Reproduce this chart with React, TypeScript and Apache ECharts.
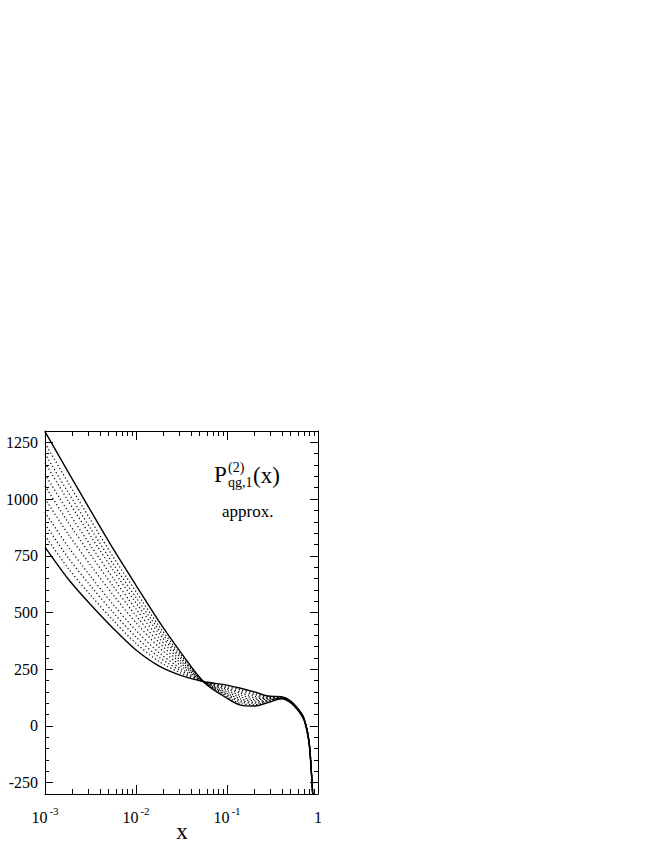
import React, { useEffect, useRef } from 'react';
import * as echarts from 'echarts';

// x positions (raw x values, plotted on a log axis)
const xValues = [0.001, 0.00178, 0.00316, 0.00562, 0.01, 0.0178, 0.0316, 0.0562, 0.1, 0.141, 0.2, 0.282, 0.398, 0.501, 0.631, 0.708, 0.794, 0.851, 0.891];

// solid boundary curves
const solidA = [1297, 1122, 950, 780, 620, 462, 320, 192, 122, 92, 88, 103, 120, 102, 58, 22, -70, -225, -370];
const solidB = [788, 650, 535, 430, 335, 265, 222, 195, 180, 166, 150, 132, 129, 110, 66, 30, -60, -215, -360];

// dotted approximations
const dotted1 = [1246, 1075, 909, 745, 592, 442, 310, 192, 128, 99, 94, 106, 121, 103, 59, 23, -69, -224, -369];
const dotted2 = [1200, 1032, 871, 714, 566, 425, 301, 193, 133, 106, 100, 109, 122, 104, 60, 24, -68, -223, -368];
const dotted3 = [1160, 995, 838, 686, 543, 409, 294, 193, 138, 112, 105, 111, 122, 104, 60, 24, -67, -222, -367];
const dotted4 = [1109, 947, 796, 651, 515, 389, 284, 193, 143, 119, 111, 114, 123, 105, 61, 25, -66, -221, -366];
const dotted5 = [1058, 900, 755, 616, 486, 369, 274, 193, 149, 127, 117, 117, 124, 106, 62, 26, -65, -220, -365];
const dotted6 = [1002, 848, 709, 577, 455, 348, 263, 194, 156, 135, 124, 120, 125, 107, 63, 27, -64, -219, -364];
const dotted7 = [941, 792, 660, 535, 421, 324, 251, 194, 163, 144, 131, 123, 126, 108, 64, 28, -63, -218, -363];
const dotted8 = [890, 744, 618, 500, 392, 304, 242, 194, 168, 151, 138, 126, 127, 108, 64, 28, -62, -217, -362];
const dotted9 = [839, 697, 577, 465, 364, 285, 232, 195, 174, 159, 144, 129, 128, 109, 65, 29, -61, -216, -361];

const yTickLabels = [-250, 0, 250, 500, 750, 1000, 1250];
const xTickExponents = [-3, -2, -1, 0];

const FONT = 'Liberation Serif';

export default function App() {
  const ref = useRef<HTMLDivElement>(null);
  useEffect(() => {
    const chart = echarts.init(ref.current!, null, { renderer: 'svg' });
    const minorX: number[] = [];
    for (let i = 0; i < xTickExponents.length - 1; i++) {
      for (let k = 2; k <= 9; k++) minorX.push(xTickExponents[i] + Math.log10(k));
    }
    const ls = { color: '#000', width: 1 };
    const pairs = (arr: number[]) => xValues.map((x, i) => [x, arr[i]]);
    const dots = [dotted1, dotted2, dotted3, dotted4, dotted5, dotted6, dotted7, dotted8, dotted9];

    const xFormatter = (v: number) => {
      const e = Math.round(Math.log10(v));
      return e === 0 ? '{b|1}' : `{b|10}{s|${e}}`;
    };

    const option: any = {
      animation: false,
      backgroundColor: '#fff',
      grid: { left: 45, top: 431, width: 273, height: 363 },
      xAxis: [
        {
          type: 'log', logBase: 10, min: 0.001, max: 1, position: 'bottom',
          axisLine: { show: true, onZero: false, lineStyle: ls },
          axisTick: { show: true, inside: true, length: 9, lineStyle: ls },
          axisLabel: {
            margin: 11, formatter: xFormatter,
            rich: {
              b: { fontSize: 16, fontFamily: FONT, color: '#000', lineHeight: 20, verticalAlign: 'bottom' },
              s: { fontSize: 11, fontFamily: FONT, color: '#000', lineHeight: 11, verticalAlign: 'top', padding: [0, 0, 0, 2] },
            },
          },
          splitLine: { show: false }, minorTick: { show: false },
        },
        {
          type: 'log', logBase: 10, min: 0.001, max: 1, position: 'top',
          axisLine: { show: true, onZero: false, lineStyle: ls },
          axisTick: { show: true, inside: true, length: 9, lineStyle: ls },
          axisLabel: { show: false }, splitLine: { show: false },
        },
        {
          type: 'value', min: -3, max: 0, position: 'bottom',
          axisLine: { show: false, onZero: false },
          axisTick: { show: true, inside: true, length: 5, lineStyle: ls, customValues: minorX },
          axisLabel: { show: false }, splitLine: { show: false },
        },
        {
          type: 'value', min: -3, max: 0, position: 'top',
          axisLine: { show: false, onZero: false },
          axisTick: { show: true, inside: true, length: 5, lineStyle: ls, customValues: minorX },
          axisLabel: { show: false }, splitLine: { show: false },
        },
      ],
      yAxis: [
        {
          type: 'value', min: -300, max: 1300, position: 'left',
          axisLine: { show: true, onZero: false, lineStyle: ls },
          axisTick: { show: true, inside: true, length: 8, lineStyle: ls, customValues: yTickLabels },
          axisLabel: {
            customValues: yTickLabels, margin: 7, fontSize: 16, fontFamily: FONT, color: '#000',
            formatter: (v: number) => String(v),
          },
          splitLine: { show: false },
        },
        {
          type: 'value', min: -300, max: 1300, position: 'right',
          axisLine: { show: true, onZero: false, lineStyle: ls },
          axisTick: { show: true, inside: true, length: 8, lineStyle: ls, customValues: yTickLabels },
          axisLabel: { show: false }, splitLine: { show: false },
        },
        {
          type: 'value', min: -300, max: 1300, interval: 50, position: 'left',
          axisLine: { show: false, onZero: false },
          axisTick: { show: true, inside: true, length: 4, lineStyle: ls },
          axisLabel: { show: false }, splitLine: { show: false },
        },
        {
          type: 'value', min: -300, max: 1300, interval: 50, position: 'right',
          axisLine: { show: false, onZero: false },
          axisTick: { show: true, inside: true, length: 4, lineStyle: ls },
          axisLabel: { show: false }, splitLine: { show: false },
        },
      ],
      series: [
        ...dots.map((d, i) => ({
          name: 'approx ' + (i + 1), type: 'line', xAxisIndex: 0, yAxisIndex: 0,
          data: pairs(d), showSymbol: false, smooth: 0.3, clip: true,
          lineStyle: { color: '#000', width: 1.2, type: [1.2, 2.4] },
        })),
        {
          name: 'A', type: 'line', xAxisIndex: 0, yAxisIndex: 0, data: pairs(solidA),
          showSymbol: false, smooth: 0.3, clip: true, lineStyle: { color: '#000', width: 1.4 },
        },
        {
          name: 'B', type: 'line', xAxisIndex: 0, yAxisIndex: 0, data: pairs(solidB),
          showSymbol: false, smooth: 0.3, clip: true, lineStyle: { color: '#000', width: 1.4 },
        },
      ],
      graphic: [
        { type: 'text', x: 214, y: 474, style: { text: 'P', fontSize: 23, fontFamily: FONT, fill: '#000', verticalAlign: 'middle' } },
        { type: 'text', x: 228, y: 467, style: { text: '(2)', fontSize: 14, fontFamily: FONT, fill: '#000', verticalAlign: 'middle' } },
        { type: 'text', x: 228, y: 482, style: { text: 'qg,1', fontSize: 14, fontFamily: FONT, fill: '#000', verticalAlign: 'middle' } },
        { type: 'text', x: 253, y: 475, style: { text: '(x)', fontSize: 23, fontFamily: FONT, fill: '#000', verticalAlign: 'middle' } },
        { type: 'text', x: 222, y: 511, style: { text: 'approx.', fontSize: 17, fontFamily: FONT, fill: '#000', verticalAlign: 'middle' } },
        { type: 'text', x: 182, y: 831, style: { text: 'x', fontSize: 23, fontFamily: FONT, fill: '#000', align: 'center', verticalAlign: 'middle' } },
      ],
    };
    chart.setOption(option);
    return () => chart.dispose();
  }, []);
  return <div ref={ref} style={{ position: 'fixed', left: 0, top: 0, width: 654, height: 846, background: '#fff' }} />;
}
